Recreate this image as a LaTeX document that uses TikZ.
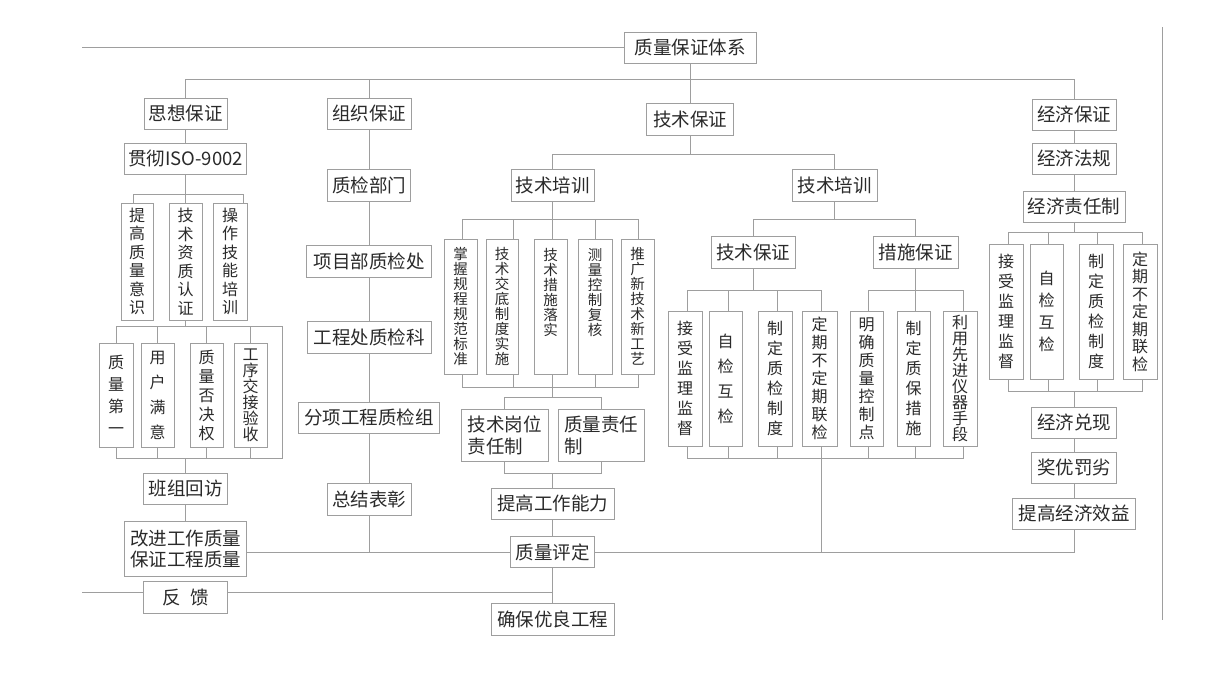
\documentclass[tikz,border=0pt]{standalone}
\usepackage{fontspec}
\setmainfont{Noto Sans CJK SC}
\definecolor{lc}{HTML}{9E9E9E}
\definecolor{tc}{HTML}{2A2A2A}
\tikzset{
 ln/.style={draw=lc, line width=0.9pt},
 hb/.style={draw=lc, line width=0.9pt, text=tc, inner sep=0pt, align=center, font=\fontsize{18.5}{21}\selectfont},
 vb/.style={draw=lc, line width=0.9pt, text=tc, inner sep=0pt, align=center, font=\fontsize{16}{#1}\selectfont},
 fb/.style={vb=15, font=\fontsize{14.5}{15}\selectfont},
}
\begin{document}
\begin{tikzpicture}[x=1pt,y=-1pt]
\fill[white] (0,0) rectangle (1221,675);
\useasboundingbox (0,0) rectangle (1221,675);
% ---------- top level
\node[hb, minimum width=132pt, minimum height=31pt] (sys) at (690,47.5) {质量保证体系};
\node[hb, minimum width=83pt, minimum height=31pt] (sx) at (185.5,113.5) {思想保证};
\node[hb, minimum width=84pt, minimum height=31pt] (zz) at (369,113.5) {组织保证};
\node[hb, minimum width=87pt, minimum height=32pt] (js) at (690,119) {技术保证};
\node[hb, minimum width=84pt, minimum height=31pt] (jj) at (1074,114.5) {经济保证};
% ---------- left column
\node[hb, minimum width=122pt, minimum height=31pt] (iso) at (185.5,158.5) {贯彻ISO-9002};
\node[vb=18.5, minimum width=32pt, minimum height=117pt] (l1) at (137,261.5) {提\\高\\质\\量\\意\\识};
\node[vb=18.5, minimum width=33pt, minimum height=117pt] (l2) at (185.5,261.5) {技\\术\\资\\质\\认\\证};
\node[vb=18.5, minimum width=34pt, minimum height=117pt] (l3) at (230,261.5) {操\\作\\技\\能\\培\\训};
\node[vb=22, minimum width=34pt, minimum height=104pt] (m1) at (116,395) {质\\量\\第\\一};
\node[vb=25, minimum width=33pt, minimum height=104pt] (m2) at (157.5,395) {用\\户\\满\\意};
\node[vb=19, minimum width=33pt, minimum height=104pt] (m3) at (206.5,395) {质\\量\\否\\决\\权};
\node[vb=16, minimum width=33pt, minimum height=104pt] (m4) at (250.5,395) {工\\序\\交\\接\\验\\收};
\node[hb, minimum width=84pt, minimum height=31pt] (bz) at (185.5,488.5) {班组回访};
\node[hb, minimum width=122pt, minimum height=55pt] (gj) at (185.5,548.5) {改进工作质量\\保证工程质量};
\node[hb, minimum width=84pt, minimum height=32pt] (fk) at (185.5,597) {反\hspace{0.5em}馈};
% ---------- organisation column
\node[hb, minimum width=83pt, minimum height=32pt] (zj) at (369,185) {质检部门};
\node[hb, minimum width=125pt, minimum height=32pt] (xm) at (369,261) {项目部质检处};
\node[hb, minimum width=124pt, minimum height=32pt] (gc) at (369,337) {工程处质检科};
\node[hb, minimum width=141pt, minimum height=31pt] (fx) at (369,417.5) {分项工程质检组};
\node[hb, minimum width=84pt, minimum height=32pt] (zb) at (369,499) {总结表彰};
% ---------- technical column
\node[hb, minimum width=83pt, minimum height=32pt] (pl) at (552.5,185) {技术培训};
\node[hb, minimum width=85pt, minimum height=32pt] (pr) at (834.5,185) {技术培训};
\node[fb, minimum width=33pt, minimum height=135pt] (f1) at (460.5,306.5) {掌\\握\\规\\程\\规\\范\\标\\准};
\node[fb, minimum width=32pt, minimum height=135pt] (f2) at (502,306.5) {技\\术\\交\\底\\制\\度\\实\\施};
\node[fb, minimum width=33pt, minimum height=135pt] (f3) at (550.5,306.5) {技\\术\\措\\施\\落\\实\\~\\~};
\node[fb, minimum width=34pt, minimum height=135pt] (f4) at (595,306.5) {测\\量\\控\\制\\复\\核\\~\\~};
\node[fb, minimum width=33pt, minimum height=135pt] (f5) at (637.5,306.5) {推\\广\\新\\技\\术\\新\\工\\艺};
\node[hb, align=left, font=\fontsize{18.5}{22}\selectfont, minimum width=87pt, minimum height=52pt] (gw) at (504.5,435) {技术岗位\\责任制};
\node[hb, align=left, font=\fontsize{18.5}{22}\selectfont, minimum width=86pt, minimum height=52pt] (zr) at (601,435) {质量责任\\制};
\node[hb, minimum width=123pt, minimum height=31pt] (tg) at (552.5,503.5) {提高工作能力};
\node[hb, minimum width=84pt, minimum height=31pt] (zl) at (552.5,552) {质量评定};
\node[hb, minimum width=123pt, minimum height=32pt] (qb) at (552.5,619) {确保优良工程};
\node[hb, minimum width=84pt, minimum height=32pt] (sb) at (753,252) {技术保证};
\node[hb, minimum width=85pt, minimum height=32pt] (cs) at (915.5,252) {措施保证};
\node[vb=20, minimum width=34pt, minimum height=135pt] (c1) at (685,378.5) {接\\受\\监\\理\\监\\督};
\node[vb=25, minimum width=33pt, minimum height=135pt] (c2) at (725.5,378.5) {自\\检\\互\\检};
\node[vb=20, minimum width=34pt, minimum height=135pt] (c3) at (775,378.5) {制\\定\\质\\检\\制\\度};
\node[vb=18, minimum width=35pt, minimum height=135pt] (c4) at (819.5,378.5) {定\\期\\不\\定\\期\\联\\检};
\node[vb=18, minimum width=33pt, minimum height=135pt] (c5) at (866.5,378.5) {明\\确\\质\\量\\控\\制\\点};
\node[vb=20, minimum width=33pt, minimum height=135pt] (c6) at (913.5,378.5) {制\\定\\质\\保\\措\\施};
\node[vb=16, minimum width=34pt, minimum height=135pt] (c7) at (960,378.5) {利\\用\\先\\进\\仪\\器\\手\\段};
% ---------- economic column
\node[hb, minimum width=84pt, minimum height=31pt] (fg) at (1074,158.5) {经济法规};
\node[hb, minimum width=102pt, minimum height=31pt] (zrz) at (1074,206.5) {经济责任制};
\node[vb=20, minimum width=34pt, minimum height=135pt] (e1) at (1006,311.5) {接\\受\\监\\理\\监\\督};
\node[vb=22, minimum width=33pt, minimum height=135pt] (e2) at (1046.5,311.5) {自\\检\\互\\检};
\node[vb=20, minimum width=34pt, minimum height=135pt] (e3) at (1096,311.5) {制\\定\\质\\检\\制\\度};
\node[vb=17.5, minimum width=34pt, minimum height=135pt] (e4) at (1140,311.5) {定\\期\\不\\定\\期\\联\\检};
\node[hb, minimum width=85pt, minimum height=31pt] (dx) at (1074,422.5) {经济兑现};
\node[hb, minimum width=85pt, minimum height=31pt] (jy) at (1074,467.5) {奖优罚劣};
\node[hb, minimum width=123pt, minimum height=31pt] (tj) at (1074,513.5) {提高经济效益};
% ---------- helper coordinates
\coordinate (tl) at (82,47.5);
\coordinate (fl) at (82,592);
\coordinate (r1) at (1162,27);
\coordinate (r2) at (1162,620);
\coordinate (fr) at (282,0);
\coordinate (d1) at (133,0);
\coordinate (d3) at (243,0);
\coordinate (t1) at (462,0);
\coordinate (t2) at (513,0);
\coordinate (t4) at (595,0);
\coordinate (t5) at (638,0);
\coordinate (u1) at (687,0);
\coordinate (u2) at (728,0);
\coordinate (u3) at (777,0);
\coordinate (u4) at (821,0);
\coordinate (v1) at (868,0);
\coordinate (v3) at (963,0);
\coordinate (w1) at (1008,0);
\coordinate (w2) at (1048,0);
\coordinate (w3) at (1097,0);
\coordinate (w4) at (1142,0);
\coordinate (L79) at (0,79);
\coordinate (L154) at (0,154);
\coordinate (L194) at (0,194);
\coordinate (L219) at (0,219);
\coordinate (L232) at (0,232);
\coordinate (L290) at (0,290);
\coordinate (L326) at (0,326);
\coordinate (L387) at (0,387);
\coordinate (L391) at (0,391);
\coordinate (L397) at (0,397);
\coordinate (L458) at (0,458);
\coordinate (L473) at (0,473);
% ---------- connectors
\draw[ln] (tl) -- (sys.west);
\draw[ln] (r1) -- (r2);
\draw[ln] (sys.south) -- (js.north);
\draw[ln] (sx.north) -- (sx.north |- L79) -- (jj.north |- L79) -- (jj.north);
\draw[ln] (zz.north) -- (zz.north |- L79);
% left
\draw[ln] (sx.south) -- (iso.north);
\draw[ln] (iso.south) -- (l2.north);
\draw[ln] (d1 |- l1.north) -- (d1 |- L194) -- (d3 |- L194) -- (d3 |- l3.north);
\draw[ln] (l2.south) -- (l2.south |- L326);
\draw[ln] (m1.north) -- (m1.north |- L326) -- (fr |- L326) -- (fr |- L458) -- (m1.south |- L458) -- (m1.south);
\foreach \n in {m2,m3,m4} {
  \draw[ln] (\n.north) -- (\n.north |- L326);
  \draw[ln] (\n.south) -- (\n.south |- L458);
}
\draw[ln] (bz.north) -- (bz.north |- L458);
\draw[ln] (bz.south) -- (gj.north);
\draw[ln] (gj.east |- zl.west) -- (zl.west);
\draw[ln] (fl) -- (fk.west |- fl);
\draw[ln] (fk.east |- fl) -- (zl.south |- fl);
% organisation
\draw[ln] (zz.south) -- (zj.north);
\draw[ln] (zj.south) -- (xm.north);
\draw[ln] (xm.south) -- (gc.north);
\draw[ln] (gc.south) -- (fx.north);
\draw[ln] (fx.south) -- (zb.north);
\draw[ln] (zb.south) -- (zb.south |- zl.west);
% technical
\draw[ln] (js.south) -- (js.south |- L154);
\draw[ln] (pl.north) -- (pl.north |- L154) -- (pr.north |- L154) -- (pr.north);
\draw[ln] (pl.south) -- (pl.south |- f3.north);
\draw[ln] (t1 |- f1.north) -- (t1 |- L219) -- (t5 |- L219) -- (t5 |- f5.north);
\draw[ln] (t2 |- L219) -- (t2 |- f2.north);
\draw[ln] (t4 |- L219) -- (t4 |- f4.north);
\draw[ln] (t1 |- f1.south) -- (t1 |- L387) -- (t5 |- L387) -- (t5 |- f5.south);
\draw[ln] (t2 |- f2.south) -- (t2 |- L387);
\draw[ln] (t4 |- f4.south) -- (t4 |- L387);
\draw[ln] (pl.south |- f3.south) -- (pl.south |- L397);
\draw[ln] (gw.north) -- (gw.north |- L397) -- (zr.north |- L397) -- (zr.north);
\draw[ln] (gw.south) -- (gw.south |- L473) -- (zr.south |- L473) -- (zr.south);
\draw[ln] (tg.north) -- (tg.north |- L473);
\draw[ln] (tg.south) -- (zl.north);
\draw[ln] (zl.south) -- (qb.north);
\draw[ln] (zl.east) -- (tj.south |- zl.east) -- (tj.south);
\draw[ln] (pr.south) -- (pr.south |- L219);
\draw[ln] (sb.north) -- (sb.north |- L219) -- (cs.north |- L219) -- (cs.north);
\draw[ln] (sb.south) -- (sb.south |- L290);
\draw[ln] (u1 |- c1.north) -- (u1 |- L290) -- (u4 |- L290) -- (u4 |- c4.north);
\draw[ln] (u2 |- L290) -- (u2 |- c2.north);
\draw[ln] (u3 |- L290) -- (u3 |- c3.north);
\draw[ln] (cs.south) -- (cs.south |- c6.north);
\draw[ln] (v1 |- c5.north) -- (v1 |- L290) -- (v3 |- L290) -- (v3 |- c7.north);
\draw[ln] (u1 |- c1.south) -- (u1 |- L458) -- (v3 |- L458) -- (v3 |- c7.south);
\draw[ln] (u2 |- c2.south) -- (u2 |- L458);
\draw[ln] (u3 |- c3.south) -- (u3 |- L458);
\draw[ln] (u4 |- c4.south) -- (u4 |- zl.east);
\draw[ln] (v1 |- c5.south) -- (v1 |- L458);
\draw[ln] (cs.south |- c6.south) -- (cs.south |- L458);
% economic
\draw[ln] (jj.south) -- (fg.north);
\draw[ln] (fg.south) -- (zrz.north);
\draw[ln] (zrz.south) -- (zrz.south |- L232);
\draw[ln] (w1 |- e1.north) -- (w1 |- L232) -- (w4 |- L232) -- (w4 |- e4.north);
\draw[ln] (w2 |- L232) -- (w2 |- e2.north);
\draw[ln] (w3 |- L232) -- (w3 |- e3.north);
\draw[ln] (w1 |- e1.south) -- (w1 |- L391) -- (w4 |- L391) -- (w4 |- e4.south);
\draw[ln] (w2 |- e2.south) -- (w2 |- L391);
\draw[ln] (w3 |- e3.south) -- (w3 |- L391);
\draw[ln] (dx.north) -- (dx.north |- L391);
\draw[ln] (dx.south) -- (jy.north);
\draw[ln] (jy.south) -- (tj.north);
\end{tikzpicture}
\end{document}
